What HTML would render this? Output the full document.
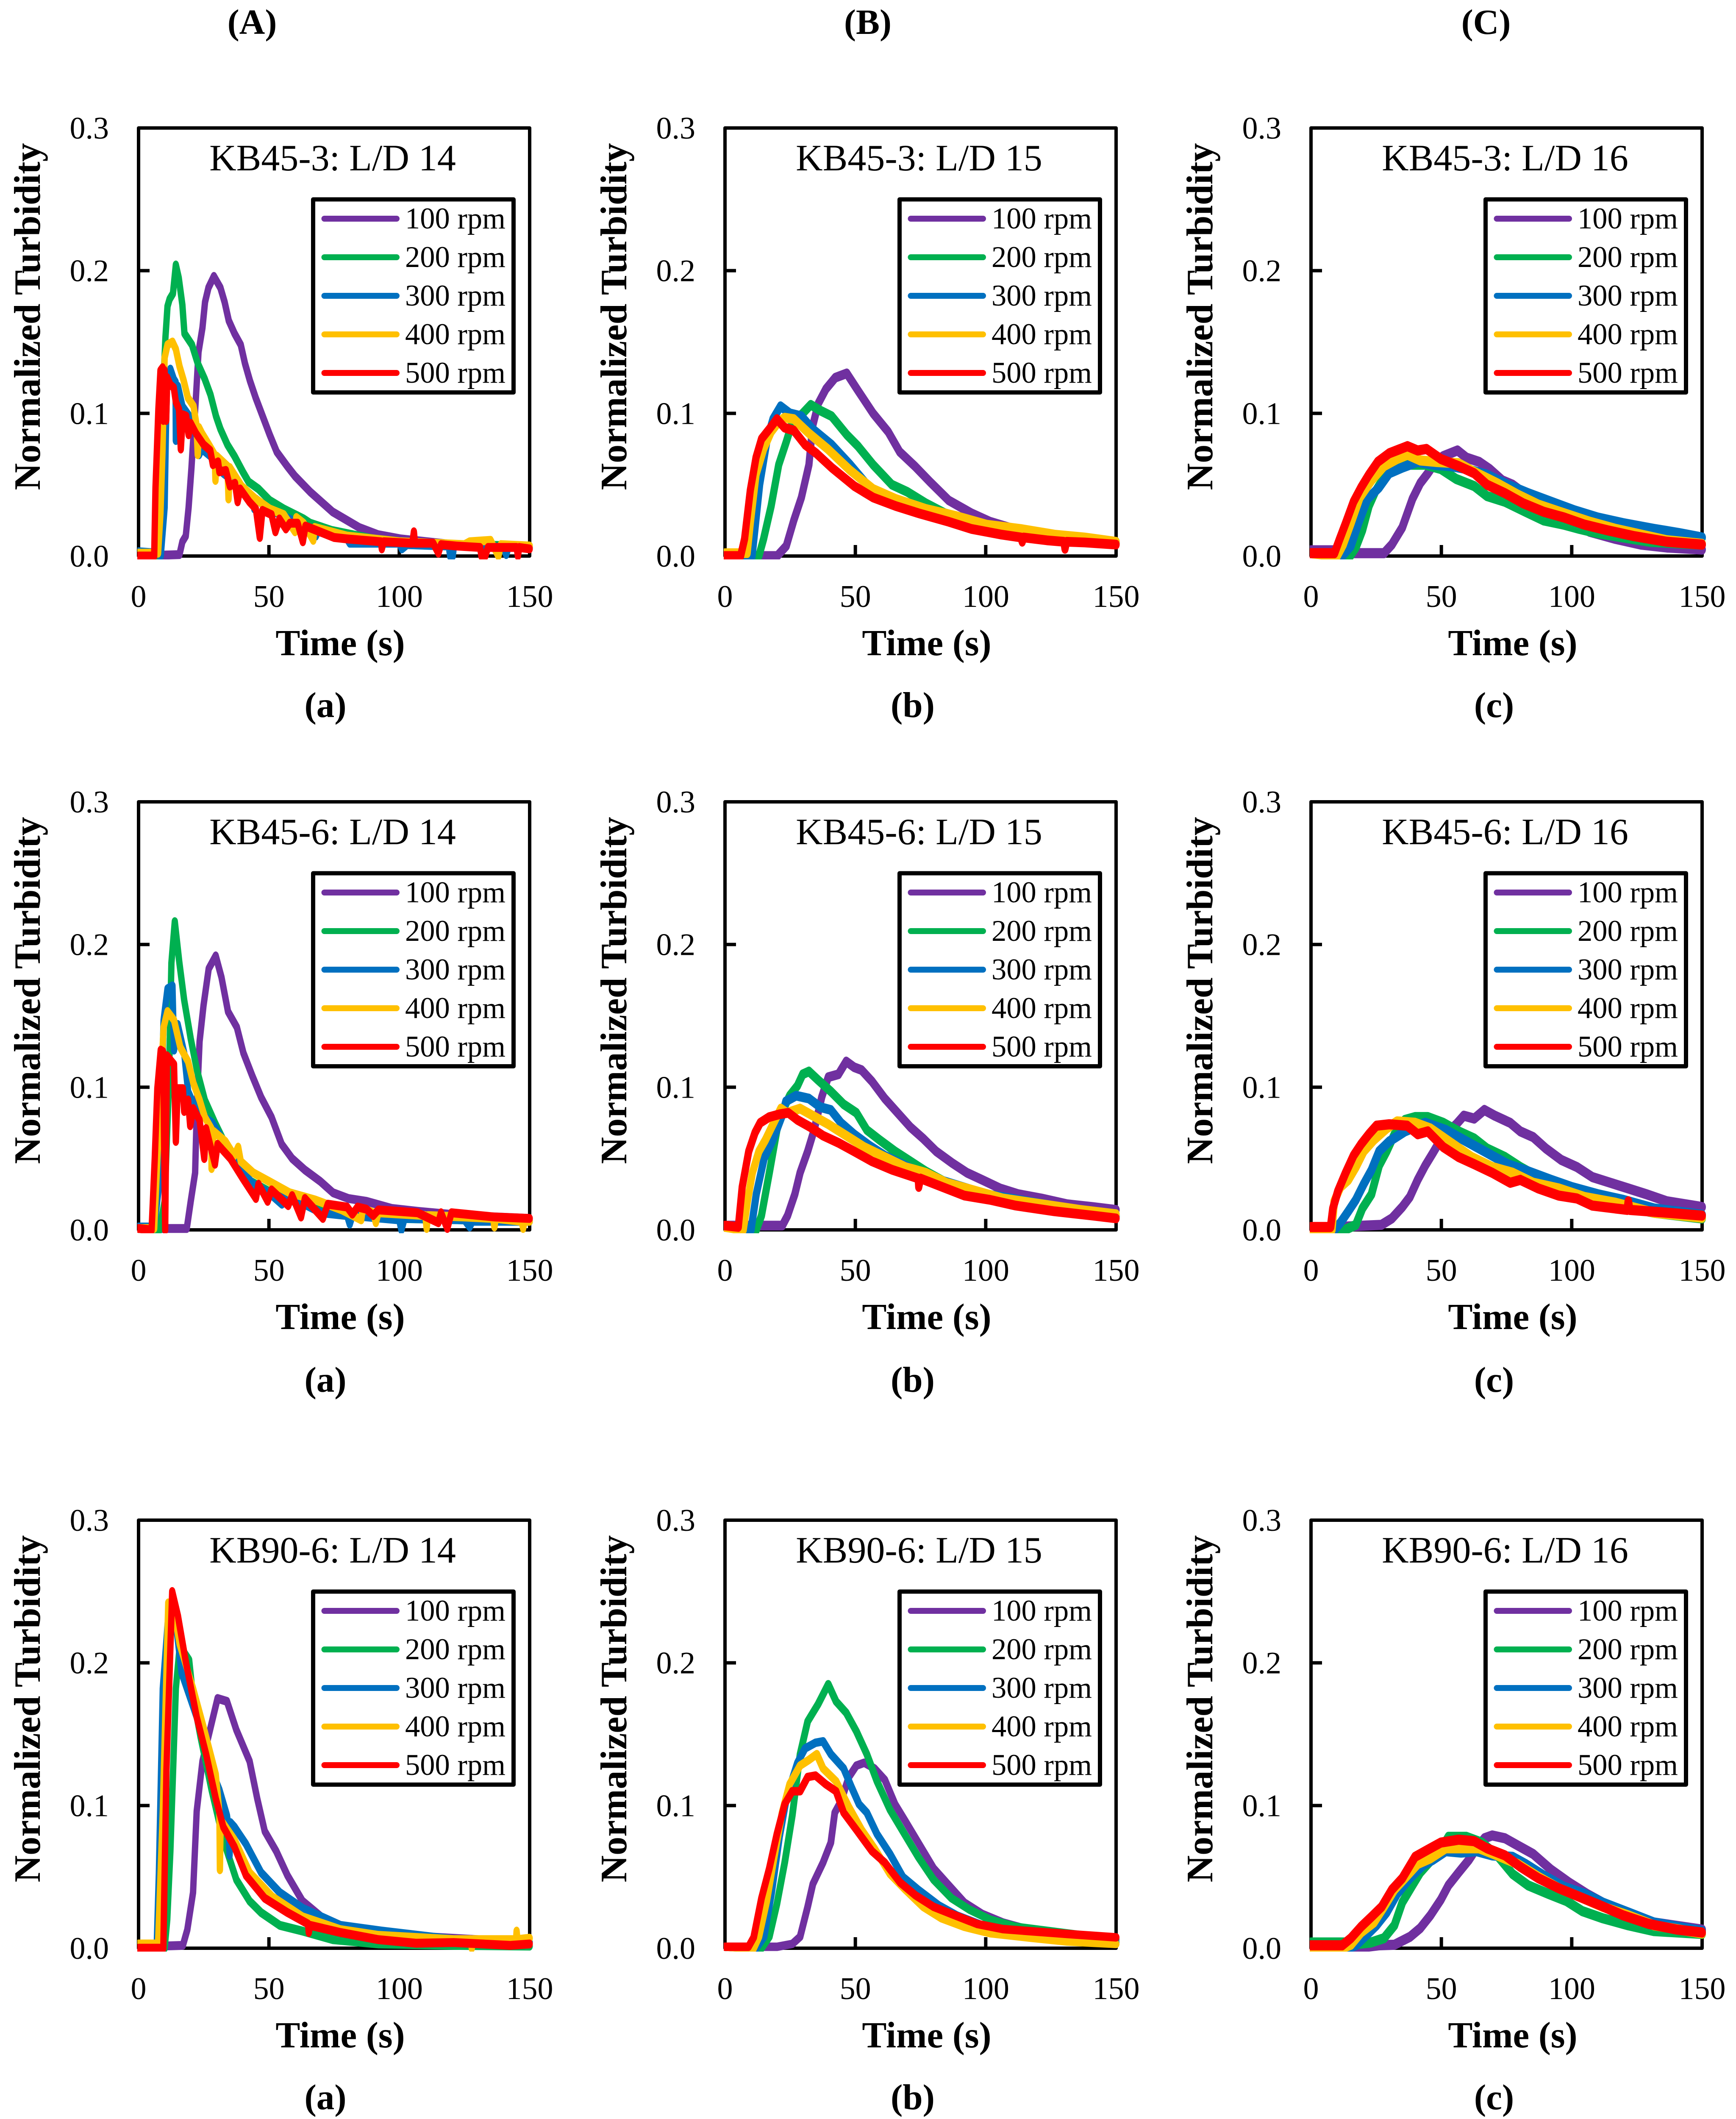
<!DOCTYPE html>
<html lang="en">
<head>
<meta charset="utf-8">
<title>Normalized turbidity vs time panels</title>
<style>
html,body{margin:0;padding:0;background:#fff;width:4097px;height:5013px;overflow:hidden;}
svg{display:block;overflow:hidden;}
text{font-family:"Liberation Serif",serif;fill:#000;}
</style>
</head>
<body>
<svg id="fig" xmlns="http://www.w3.org/2000/svg" width="4097" height="5013" viewBox="0 0 4097 5013">
<rect x="0" y="0" width="4097" height="5013" fill="#fff"/>
<text x="595" y="80" font-size="84" font-weight="bold" text-anchor="middle">(A)</text>
<text x="2048" y="80" font-size="84" font-weight="bold" text-anchor="middle">(B)</text>
<text x="3507" y="80" font-size="84" font-weight="bold" text-anchor="middle">(C)</text>
</svg>
<script>
/* ---- shared axis data ---- */
const xTicks = [0, 50, 100, 150];
const yTicks = [0, 0.1, 0.2, 0.3];
const rpmLabels = ['100 rpm', '200 rpm', '300 rpm', '400 rpm', '500 rpm'];
const seriesColors = ['#7030a0', '#00b050', '#0070c0', '#ffc000', '#ff0000'];
const xLabel = 'Time (s)';
const yLabel = 'Normalized Turbidity';

/* ---- KB45-3, L/D 14 ---- */
const a1_100 = [[0,0],[15.7,.001],[16.8,.01],[18.1,.014],[19.2,.034],[20.3,.062],[20.9,.08],[21.9,.108],[23,.143],[24.5,.16],[25.5,.178],[26.8,.188],[28.9,.196],[31.4,.188],[33,.178],[34.6,.165],[36.8,.156],[39.2,.148],[40.8,.135],[42.7,.123],[44.9,.111],[47.6,.098],[50.3,.085],[53,.073],[57,.063],[60,.056],[65.8,.045],[74.4,.031],[84.6,.02],[91.8,.015],[100.6,.012],[120.8,.008],[150,.006]];
const a1_200 = [[0,.001],[7,0],[8.5,.05],[9.5,.12],[10.3,.153],[11.1,.175],[11.9,.18],[13.2,.184],[14.3,.204],[15.4,.195],[16.8,.176],[17.6,.156],[20.5,.148],[22.7,.135],[25.4,.124],[27.6,.113],[29.7,.098],[31.4,.089],[34.1,.078],[36.8,.07],[40,.059],[42.2,.052],[46,.047],[50.3,.039],[55.7,.033],[63.3,.026],[65.8,.023],[74,.018],[90,.012],[100,.01],[120,.008],[150,.007]];
const a1_300 = [[0,.003],[7.5,.002],[8.5,0],[10,.034],[10.5,.089],[11,.125],[12.2,.131],[13.5,.124],[14.2,.122],[14.3,.081],[15.1,.119],[16.8,.105],[19.5,.098],[21,.09],[23,.08],[23.2,.071],[24.3,.075],[27.6,.07],[32.5,.058],[36.8,.052],[40,.048],[44,.04],[44.4,.033],[45,.04],[50,.033],[60,.024],[68,.014],[69,.018],[80,.012],[81,.009],[100,.009],[101,.005],[103,.008],[119,.007],[119.5,.0],[120.5,.0],[121,.008],[140,.006],[141,.001],[142,.007],[150,.006]];
const a1_400 = [[0,.002],[7.5,.002],[8.4,.03],[9.2,.075],[10,.139],[11.1,.148],[13,.15],[14.3,.145],[15.7,.133],[17.3,.123],[18.9,.111],[21.1,.105],[22.2,.092],[22.7,.071],[23.2,.09],[24.3,.086],[27,.078],[29.2,.071],[29.5,.053],[30,.07],[34.1,.063],[34.5,.04],[35,.062],[39.5,.049],[44.9,.04],[50.3,.033],[55.7,.029],[60,.017],[60.5,.027],[63.3,.023],[67,.011],[67.5,.02],[80,.014],[100,.01],[125,.008],[127,.01],[135,.011],[138,.0],[139,.008],[150,.007]];
const a1_500 = [[0,0],[6,0],[6.5,.048],[7.6,.103],[8.4,.13],[9.2,.132],[9.5,.095],[10,.13],[10.6,.095],[11,.125],[12.2,.12],[13.5,.118],[14.3,.108],[15.5,.103],[16.2,.075],[17,.099],[18.3,.098],[19.2,.085],[20,.093],[22,.086],[25,.078],[27.5,.074],[28.5,.064],[30.5,.066],[31,.059],[33.5,.06],[35,.049],[37,.051],[38,.038],[39,.047],[42.5,.038],[45,.033],[46.5,.013],[47.5,.032],[51,.029],[52.5,.017],[54,.026],[56.5,.019],[58,.023],[61,.023],[63,.01],[64,.021],[75,.013],[80,.012],[93,.01],[93.3,.005],[94,.01],[105,.009],[105.6,.017],[106,.009],[113,.009],[115,.002],[116,.008],[122,.007],[131,.006],[131.5,.0],[133,.0],[134,.006],[145,.006],[145.5,.0],[146,.006],[150,.005]];

/* ---- KB45-3, L/D 15 ---- */
const b1_100 = [[0,0],[20,0],[23.5,.007],[26.4,.025],[29.3,.041],[32.2,.064],[33.6,.091],[35.8,.107],[38.7,.117],[42.3,.125],[46.7,.128],[51,.116],[56.8,.1],[62.6,.087],[67,.073],[72.8,.063],[78.6,.052],[85.8,.039],[94.5,.03],[101.7,.024],[109,.02],[120,.016],[135,.012],[150,.009]];
const b1_200 = [[0,.001],[13,0],[14.8,.012],[17.7,.035],[20.6,.064],[23.5,.08],[26.4,.097],[29.3,.099],[32.9,.106],[36.5,.102],[40.9,.098],[46.7,.085],[51,.077],[56.8,.064],[64,.05],[69.9,.045],[77,.037],[84.3,.03],[100,.022],[120,.016],[150,.01]];
const b1_300 = [[0,.001],[10.4,0],[13.3,.05],[16.2,.082],[18.4,.096],[21.3,.105],[24.9,.1],[29.3,.098],[33.6,.089],[40.9,.078],[48,.064],[55.4,.048],[64,.039],[71.3,.035],[85,.027],[100,.021],[120,.015],[150,.009]];
const b1_400 = [[0,.002],[8.5,.002],[9.7,.023],[11.9,.057],[14.8,.075],[17.7,.087],[20.6,.094],[22.8,.097],[26.4,.096],[32.2,.086],[39.4,.075],[48,.06],[56.8,.047],[65.5,.04],[77,.033],[88.7,.028],[100.3,.022],[113.3,.019],[126.4,.015],[138,.013],[150,.01]];
const b1_500 = [[0,0],[6,0],[7.5,.012],[9.7,.046],[11.9,.069],[14,.082],[17,.089],[19.9,.096],[22.8,.09],[26.4,.088],[30.7,.078],[35,.072],[40.9,.062],[49.6,.049],[56.8,.041],[65.5,.035],[74.2,.03],[85.8,.024],[94.5,.019],[106,.015],[113.5,.013],[114,.01],[114.5,.013],[123.5,.011],[130,.01],[130.4,.005],[131,.01],[138,.0095],[150,.008]];

/* ---- KB45-3, L/D 16 ---- */
const c1_100 = [[0,.004],[9,.004],[10,.002],[28,.002],[31,.008],[35,.02],[38.9,.04],[41.9,.051],[44.8,.058],[47.8,.066],[50.7,.07],[56.2,.074],[59.6,.069],[64.5,.066],[68.5,.061],[73.4,.053],[77.3,.05],[90,.033],[106.9,.017],[116.8,.012],[126.6,.008],[136.5,.006],[150,.0045]];
const c1_200 = [[0,.002],[15,.0],[17.2,.006],[19.7,.018],[22.2,.035],[24.6,.045],[28,.055],[32,.062],[37.9,.064],[43.8,.064],[49.8,.061],[55.7,.054],[62.6,.049],[67.5,.042],[74.4,.038],[82.3,.031],[89.2,.025],[97,.022],[103,.019],[109.9,.016],[130,.01],[150,.008]];
const c1_300 = [[0,.002],[12,.0],[15.3,.007],[18.2,.023],[21.7,.04],[26.1,.048],[30,.058],[35,.062],[40.9,.066],[46.8,.064],[53.7,.063],[59.6,.061],[67.5,.057],[75.4,.05],[83.3,.044],[92.1,.038],[101,.032],[109.9,.027],[119.7,.023],[131.5,.019],[141.4,.016],[150,.013]];
const c1_400 = [[0,.002],[10,0],[12.3,.008],[15.3,.023],[18.7,.041],[23.2,.053],[28,.063],[33,.068],[37,.071],[41.9,.067],[47.8,.066],[56.6,.065],[62.6,.059],[71.4,.051],[79.3,.043],[87.2,.036],[97,.03],[106.9,.024],[116.8,.019],[126.6,.015],[136.5,.011],[150,.0085]];
const c1_500 = [[0,.002],[9,.002],[10.8,.011],[13.3,.023],[16.3,.038],[19.2,.048],[22.2,.057],[25.6,.066],[30,.072],[37,.077],[40.9,.074],[44.3,.075],[49.8,.068],[56.6,.063],[62.6,.058],[67.5,.05],[74.4,.044],[81.3,.037],[89.2,.031],[97,.027],[104.9,.022],[113.8,.018],[123.6,.014],[136.5,.01],[150,.008]];

/* ---- KB45-6, L/D 14 ---- */
const a2_100 = [[0,.001],[18.5,.001],[20,.02],[21.7,.04],[22.4,.089],[23.4,.132],[24.9,.157],[26.9,.183],[29.6,.192],[31.8,.177],[34.3,.153],[37.7,.142],[40.2,.124],[43.6,.108],[47,.093],[51,.079],[54.9,.06],[58.9,.05],[63.8,.042],[69.7,.034],[74.6,.026],[80.5,.022],[87.4,.02],[97.2,.015],[107,.013],[125,.01],[150,.008]];
const a2_200 = [[0,.001],[8,0],[10,.02],[11.6,.1],[12.6,.187],[13.9,.216],[15.6,.188],[17.5,.161],[20,.134],[22.4,.112],[25.4,.091],[29.3,.075],[33.3,.06],[38.2,.044],[43,.034],[53,.024],[62.8,.018],[77.6,.011],[100,.008],[150,.006]];
const a2_300 = [[0,.002],[6,.002],[7.8,.03],[9.6,.147],[11.1,.169],[13,.171],[13.6,.126],[15,.144],[17.5,.124],[19,.097],[22.4,.083],[28.3,.075],[32.3,.063],[38.2,.044],[44,.032],[50,.026],[55,.018],[56,.025],[70,.012],[80,.01],[81,.004],[82,.01],[100,.007],[100.8,.0],[102,.008],[125,.007],[127,.002],[128,.006],[150,.006]];
const a2_400 = [[0,.001],[6,.001],[8.2,.089],[9.6,.142],[11.1,.153],[13.6,.147],[16,.128],[19,.118],[21,.103],[23.4,.091],[25.4,.079],[27.9,.071],[28,.043],[28.8,.069],[33.3,.062],[36.7,.052],[38.2,.058],[39.2,.048],[44,.04],[50,.034],[57.9,.026],[67.7,.021],[78,.014],[85.4,.007],[86,.015],[90,.012],[91,.005],[92,.012],[110,.01],[110.5,.001],[111,.01],[125,.009],[136,.008],[136.5,.002],[137,.008],[147,.006],[147.5,.001],[148,.006],[150,.006]];
const a2_500 = [[0,.001],[5,0],[6.2,.05],[7.2,.099],[8.5,.126],[9.4,.125],[10.2,0],[10.9,.122],[13.6,.116],[14.3,.062],[15,.099],[17,.099],[17.5,.083],[19,.091],[19.8,.073],[21,.085],[23.4,.077],[25.2,.05],[25.9,.071],[29.3,.046],[30.3,.06],[35.2,.05],[40,.036],[45,.022],[46,.032],[49.5,.02],[51,.028],[57.4,.017],[58.9,.024],[62.3,.009],[63.8,.022],[70.7,.008],[72.6,.018],[80,.016],[82,.011],[84,.016],[87.4,.0145],[90,.01],[92,.014],[107,.012],[115,.005],[116,.012],[118.4,.001],[120,.012],[136.6,.009],[150,.008]];

/* ---- KB45-6, L/D 15 ---- */
const b2_100 = [[0,.003],[22,.003],[24,.01],[26.8,.025],[28.8,.04],[31.7,.055],[34.2,.07],[37.1,.093],[39.6,.107],[43.5,.109],[46.5,.118],[49.5,.114],[52.4,.112],[56.4,.104],[61.3,.092],[66.2,.082],[71.1,.072],[76,.064],[81,.055],[87,.047],[92.8,.04],[98.7,.035],[105.6,.029],[112.5,.025],[121.4,.022],[131.2,.018],[141,.016],[150,.014]];
const b2_200 = [[0,.003],[10,.001],[12,0],[14,.01],[17,.04],[19.9,.07],[22,.083],[24.8,.094],[27.8,.101],[29.8,.109],[32.2,.111],[35.7,.105],[40.6,.097],[45.5,.088],[50.4,.082],[54.4,.07],[59.3,.063],[65.2,.055],[71.1,.048],[77,.041],[84.9,.033],[96.8,.026],[106.6,.021],[126.3,.015],[150,.01]];
const b2_300 = [[0,.002],[10,0],[12,.025],[15,.05],[18.4,.063],[21.9,.08],[23.3,.09],[27.3,.094],[32.2,.092],[36.6,.086],[40.6,.084],[44.5,.075],[49.5,.067],[55.4,.059],[61.3,.052],[77,.038],[100,.025],[150,.009]];
const b2_400 = [[0,.002],[7,0],[8.6,.02],[10.5,.04],[13,.055],[15.5,.063],[17.9,.072],[21.4,.085],[23.8,.082],[28.8,.085],[33.7,.08],[39.6,.074],[46.5,.066],[53.4,.058],[61.3,.051],[69.2,.044],[77,.04],[84.9,.033],[94.8,.028],[106.6,.022],[121.4,.018],[136.2,.014],[150,.011]];
const b2_500 = [[0,.003],[5.1,.002],[6.6,.03],[9.1,.055],[11.5,.068],[13.5,.075],[16.9,.079],[20.9,.081],[24.3,.082],[27.8,.077],[32.7,.072],[37.6,.066],[43.5,.061],[49.5,.055],[56.4,.048],[64.2,.042],[74.1,.036],[74.3,.03],[75,.036],[82,.031],[91.8,.024],[101.7,.021],[111.5,.017],[126.3,.013],[141,.01],[150,.008]];

/* ---- KB45-6, L/D 16 ---- */
const c2_100 = [[0,.001],[21.2,.003],[27,.0035],[31,.008],[35,.016],[37.9,.023],[40.9,.035],[43.8,.045],[46.8,.054],[50,.064],[55.7,.074],[58.6,.08],[62.6,.078],[66.5,.084],[70.5,.08],[76.4,.075],[80.3,.069],[85.2,.065],[90.1,.057],[96,.049],[102,.044],[107.9,.037],[114.8,.033],[121.7,.029],[128.6,.025],[136.5,.02],[150,.016]];
const c2_200 = [[0,.001],[13,0],[17.2,.0035],[19.7,.015],[23.2,.025],[26.1,.045],[29,.055],[32,.067],[36,.077],[39.9,.079],[44.8,.079],[50.7,.075],[56.6,.069],[62.6,.064],[67.5,.057],[74.4,.051],[80.3,.044],[87.2,.037],[97,.03],[106.9,.023],[121.7,.016],[131.5,.012],[150,.008]];
const c2_300 = [[0,.001],[9,0],[11.3,.005],[14.3,.013],[17.2,.021],[20.2,.032],[23.2,.042],[26.1,.055],[30,.062],[36,.069],[43.8,.075],[51.7,.07],[59.6,.062],[67.5,.054],[75.4,.046],[83.3,.041],[92.1,.035],[100,.03],[109.9,.025],[119.7,.021],[131.5,.015],[150,.0105]];
const c2_400 = [[0,.001],[8,0],[8.9,.02],[11.3,.03],[14.3,.035],[17.2,.044],[20.2,.055],[24.1,.063],[29,.071],[33,.076],[39.9,.075],[45.8,.071],[53.7,.061],[61.6,.051],[69.5,.044],[77.3,.04],[85.2,.033],[95,.029],[104.9,.023],[116.7,.019],[131.5,.012],[150,.0085]];
const c2_500 = [[0,.002],[7.5,.002],[8.4,.015],[10.3,.027],[13.3,.04],[16.3,.052],[19.2,.06],[22.2,.067],[25.1,.073],[30,.074],[36.9,.073],[40.9,.067],[44.8,.069],[50.7,.058],[56.6,.051],[62.6,.046],[69.5,.04],[76.4,.033],[80.3,.035],[87.2,.029],[95,.024],[102,.022],[107.9,.017],[116.7,.015],[121.3,.014],[121.7,.02],[122.2,.014],[136.5,.012],[150,.01]];

/* ---- KB90-6, L/D 14 ---- */
const a3_100 = [[0,.001],[17,.002],[18.7,.013],[20.9,.039],[22.3,.096],[24.5,.131],[27.4,.153],[30.3,.175],[33.9,.173],[37.5,.153],[42.6,.131],[45.5,.105],[48.4,.082],[52.8,.068],[57.1,.051],[62.9,.033],[70.1,.022],[77.4,.016],[95,.011],[110,.008],[150,.004]];
const a3_200 = [[0,.001],[10,0],[11,.02],[12.2,.068],[14.3,.182],[15.8,.212],[19.4,.202],[20.9,.176],[23.8,.148],[28,.111],[32.5,.076],[37.5,.048],[42.6,.033],[47,.025],[54.2,.016],[62.9,.012],[74.5,.006],[91.9,.003],[120.9,.002],[150,.0015]];
const a3_300 = [[0,.003],[6,.003],[7,.004],[7.8,.053],[9.3,.182],[11.4,.233],[14.3,.228],[16.5,.193],[22.3,.162],[26.7,.131],[31,.111],[33.9,.093],[34.5,.085],[34.9,.065],[35.3,.088],[36.8,.085],[41.2,.073],[47,.053],[54.2,.039],[62.9,.028],[77.4,.016],[93.3,.012],[120.9,.006],[150,.004]];
const a3_400 = [[0,.003],[7.5,.003],[9.3,.096],[11.4,.242],[13.6,.236],[15.8,.213],[20.9,.182],[25.2,.153],[29.6,.122],[31,.095],[31.2,.055],[31.5,.09],[36.8,.076],[42.6,.053],[51.3,.036],[62.9,.022],[77.4,.013],[91.9,.009],[120.9,.006],[127.5,.006],[127.8,.0],[128.2,.006],[144.8,.006],[145,.012],[145.3,.006],[150,.007]];
const a3_500 = [[0,0],[9.5,0],[10.7,.125],[12.9,.25],[15.1,.233],[18,.202],[22.3,.162],[25.9,.136],[29.6,.105],[32.5,.085],[36.8,.071],[41.2,.051],[48.4,.035],[57.1,.025],[65,.017],[65.3,.011],[65.8,.016],[77.4,.011],[91.9,.006],[106.4,.0035],[120.9,.004],[142.6,.002],[150,.003]];

/* ---- KB90-6, L/D 15 ---- */
const b3_100 = [[0,.001],[20,.001],[25.8,.003],[28.8,.008],[31.7,.029],[33.7,.045],[37.6,.06],[40.6,.074],[42.1,.095],[44.5,.103],[47.5,.12],[50.4,.128],[53.4,.13],[57.3,.126],[61.3,.118],[65.2,.101],[69.2,.089],[74.1,.074],[80,.056],[84.9,.046],[91.8,.032],[98.7,.024],[106.6,.018],[116.5,.013],[130,.01],[150,.007]];
const b3_200 = [[0,.001],[14,0],[17,.008],[19.9,.031],[22.9,.06],[25.8,.093],[28.8,.136],[31.7,.159],[35.7,.171],[39.6,.185],[42.6,.173],[46.5,.165],[50.4,.152],[54.4,.136],[58.3,.117],[63.3,.097],[68.2,.082],[74.1,.064],[80,.048],[86.9,.035],[93.8,.027],[101.7,.02],[111.5,.015],[126.3,.0115],[150,.006]];
const b3_300 = [[0,.001],[12,0],[15,.008],[17.9,.039],[20.9,.078],[23.8,.107],[27.8,.13],[30.7,.14],[34.7,.144],[37.6,.145],[40.6,.136],[45.5,.126],[48.5,.113],[51.4,.101],[54.4,.095],[58.3,.08],[63.3,.066],[68.2,.05],[74.1,.041],[82,.03],[88.9,.023],[98.7,.016],[111.5,.0115],[126.3,.0075],[150,.004]];
const b3_400 = [[0,.001],[11,0],[13,.008],[16,.033],[18.9,.064],[21.9,.095],[24.8,.115],[28.8,.128],[32.2,.132],[35.2,.136],[37.6,.126],[42.6,.117],[47.5,.099],[52.4,.083],[57.3,.07],[63.3,.052],[69.2,.041],[76,.029],[83,.021],[91.8,.015],[101.7,.0105],[116.5,.0075],[131.2,.0047],[150,.003]];
const b3_500 = [[0,.001],[9,.001],[11,.0076],[14,.035],[17,.056],[19.9,.08],[22.9,.101],[25.8,.11],[28.8,.11],[31.7,.12],[34.7,.121],[38.6,.115],[42.6,.11],[45.5,.095],[50.4,.083],[56.4,.068],[61.3,.06],[67.2,.046],[73.1,.037],[80,.029],[86.9,.024],[96.7,.017],[106.6,.0134],[116.5,.012],[131.2,.01],[150,.0076]];

/* ---- KB90-6, L/D 16 ---- */
const c3_100 = [[0,.001],[17,0],[26,.002],[32,.0024],[38,.008],[41.9,.014],[45.8,.023],[49.8,.034],[52.7,.044],[56.6,.053],[60.6,.062],[63.5,.07],[66.5,.077],[69.5,.079],[74.4,.077],[79.3,.072],[85.2,.066],[92.1,.055],[99,.046],[105.9,.038],[113.8,.03],[121.7,.024],[131.5,.018],[150,.013]];
const c3_200 = [[0,.004],[14,.004],[18,.003],[23,.004],[28,.007],[32,.016],[35,.032],[38.9,.044],[41.9,.053],[44.8,.059],[49.8,.069],[52.7,.078],[59.6,.078],[65.5,.074],[71.4,.065],[77.3,.052],[83.3,.044],[91.1,.038],[98,.033],[104,.026],[111.8,.021],[121.7,.016],[131.5,.012],[150,.01]];
const c3_300 = [[0,.001],[14,0],[17.2,.002],[21.2,.009],[25.1,.016],[29,.025],[33,.038],[37.9,.049],[42.9,.058],[46.8,.062],[51.7,.068],[57.6,.067],[63.5,.068],[69.5,.065],[77.3,.064],[82.3,.059],[89.2,.051],[97,.043],[105,.038],[111.8,.032],[121.7,.025],[131.5,.018],[150,.012]];
const c3_400 = [[0,.001],[12,0],[15.3,.0024],[19.2,.011],[24.1,.018],[28,.029],[32,.041],[36,.049],[40.9,.059],[45.8,.063],[51.7,.07],[57.6,.07],[64.5,.07],[71.4,.065],[79.3,.059],[87.2,.05],[95,.042],[103,.036],[111.8,.029],[121.7,.023],[131.5,.016],[150,.0103]];
const c3_500 = [[0,.002],[12,.002],[15.3,.007],[19.2,.015],[23.2,.022],[27.1,.029],[31,.041],[35,.049],[39.9,.064],[44.8,.069],[49.8,.074],[56.6,.076],[62.6,.075],[67.5,.07],[74.4,.065],[80.3,.057],[87.2,.049],[95,.042],[103,.036],[110.9,.03],[119.7,.023],[129.5,.017],[140.4,.013],[150,.011]];

const panelTitles = [
  'KB45-3: L/D 14','KB45-3: L/D 15','KB45-3: L/D 16',
  'KB45-6: L/D 14','KB45-6: L/D 15','KB45-6: L/D 16',
  'KB90-6: L/D 14','KB90-6: L/D 15','KB90-6: L/D 16'
];
const panelSeries = [
  [a1_100,a1_200,a1_300,a1_400,a1_500],[b1_100,b1_200,b1_300,b1_400,b1_500],[c1_100,c1_200,c1_300,c1_400,c1_500],
  [a2_100,a2_200,a2_300,a2_400,a2_500],[b2_100,b2_200,b2_300,b2_400,b2_500],[c2_100,c2_200,c2_300,c2_400,c2_500],
  [a3_100,a3_200,a3_300,a3_400,a3_500],[b3_100,b3_200,b3_300,b3_400,b3_500],[c3_100,c3_200,c3_300,c3_400,c3_500]
];
const subLabels = ['(a)','(b)','(c)'];

/* ---- layout (not data) ---- */
const colLeft = [327, 1711, 3094];
const rowTop = [302, 1892, 3587];
const subX = [768, 2154, 3526];
const subY = [1692, 3284, 4977];
const plotW = 923, plotH = 1010;
const xMax = 150, yMax = 0.3;
const penW = [15,17,18, 15,17,18, 15,16,18];
const penH = [21,23,24, 21,23,24, 21,20,24];

const NS = 'http://www.w3.org/2000/svg';
const fig = document.getElementById('fig');
function mk(tag, attrs, parent){
  const el = document.createElementNS(NS, tag);
  for (const k in attrs) el.setAttribute(k, attrs[k]);
  parent.appendChild(el);
  return el;
}

panelTitles.forEach(function(title, idx){
  const col = idx % 3, row = Math.floor(idx / 3);
  const L = colLeft[col], T = rowTop[row], B = T + plotH;
  const xs = function(t){ return L + t / xMax * plotW; };
  const ys = function(v){ return B - v / yMax * plotH; };

  const g = mk('g', {}, fig);
  
  

  const frame = mk('rect', {x:L, y:T, width:plotW, height:plotH, fill:'none', stroke:'#000', 'stroke-width':8, 'stroke-linejoin':'round'}, g);
  
  

  xTicks.forEach(function(t){
    const x = xs(t);
    if (t > 0 && t < xMax) {
      const tick = mk('line', {x1:x, x2:x, y1:B, y2:B - 26, stroke:'#000', 'stroke-width':8}, g);
      
      
    }
    const lab = mk('text', {x:x, y:B + 120, 'font-size':74, 'text-anchor':'middle'}, g);
    lab.textContent = String(t);
    
    
  });

  yTicks.forEach(function(v){
    const y = ys(v);
    if (v > 0 && v < yMax) {
      const tick = mk('line', {x1:L, x2:L + 26, y1:y, y2:y, stroke:'#000', 'stroke-width':8}, g);
      
      
    }
    const lab = mk('text', {x:L - 70, y:y + 25, 'font-size':74, 'text-anchor':'end'}, g);
    lab.textContent = v.toFixed(1);
    
    
  });

  const tt = mk('text', {x:L + 458, y:T + 100, 'font-size':88, 'text-anchor':'middle'}, g);
  tt.textContent = title;
  
  

  const xt = mk('text', {x:L + 476, y:B + 234, 'font-size':87, 'font-weight':'bold', 'text-anchor':'middle'}, g);
  xt.textContent = xLabel;
  
  

  const yt = mk('text', {x:0, y:0, 'font-size':88, 'font-weight':'bold', 'text-anchor':'middle', transform:'translate(' + (L - 233) + ',' + (T + 445) + ') rotate(-90)'}, g);
  yt.textContent = yLabel;
  
  

  const sub = mk('text', {x:subX[col], y:subY[row], 'font-size':85, 'font-weight':'bold', 'text-anchor':'middle'}, g);
  sub.textContent = subLabels[col];
  
  

  /* series, clipped just under the x axis as in the source figure */
  const clipId = 'clip' + idx;
  const cp = mk('clipPath', {id:clipId}, g);
  mk('rect', {x:L - 3, y:T - 10, width:plotW + 16, height:plotH + 18}, cp);
  const clipG = mk('g', {'clip-path':'url(#' + clipId + ')'}, g);
  
  
  const ky = penH[idx] / penW[idx];
  const penG = mk('g', {transform:'scale(1,' + ky.toFixed(4) + ')'}, clipG);
  panelSeries[idx].forEach(function(points, si){
    const d = points.map(function(p, i){
      return (i ? 'L' : 'M') + xs(p[0]).toFixed(1) + ' ' + (ys(p[1]) / ky).toFixed(1);
    }).join('');
    const path = mk('path', {d:d, fill:'none', stroke:seriesColors[si], 'stroke-width':penW[idx], 'stroke-linejoin':'round', 'stroke-linecap':'round'}, penG);
    
    
  });

  /* legend */
  const lg = mk('g', {}, g);
  
  
  const box = mk('rect', {x:L + 412, y:T + 168.5, width:473, height:455.5, fill:'#fff', stroke:'#000', 'stroke-width':10, 'stroke-linejoin':'round'}, lg);
  
  
  rpmLabels.forEach(function(label, si){
    const ry = T + 214 + si * 91;
    const ln = mk('line', {x1:L + 438.5, x2:L + 609, y1:ry, y2:ry, stroke:seriesColors[si], 'stroke-width':14, 'stroke-linecap':'round'}, lg);
    
    
    const tx = mk('text', {x:L + 629, y:ry + 23, 'font-size':70.5}, lg);
    tx.textContent = label;
    
    
  });
});
</script>
</body>
</html>
